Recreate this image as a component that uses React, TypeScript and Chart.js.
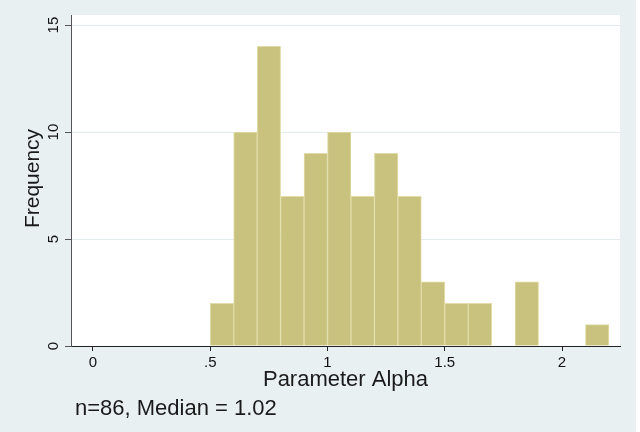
import React, { useEffect, useRef } from 'react';
import { Chart, registerables } from 'chart.js';

Chart.register(...registerables);

// ---- data ----
const binStarts = [0.5, 0.6, 0.7, 0.8, 0.9, 1.0, 1.1, 1.2, 1.3, 1.4, 1.5, 1.6, 1.7, 1.8, 1.9, 2.0, 2.1];
const frequencies = [2, 10, 14, 7, 9, 10, 7, 9, 7, 3, 2, 2, 0, 3, 0, 0, 1];
const binWidth = 0.1;
const xTicks = [0, 0.5, 1, 1.5, 2];
const xTickLabels = ['0', '.5', '1', '1.5', '2'];
const yTicks = [0, 5, 10, 15];
const yTickLabels = ['0', '5', '10', '15'];
const xTitle = 'Parameter Alpha';
const yTitle = 'Frequency';
const note = 'n=86, Median = 1.02';

const FONT = '"Liberation Sans", Arial, Helvetica, sans-serif';
const BG = '#E9F0F2';

export default function App() {
  const ref = useRef<HTMLCanvasElement | null>(null);

  useEffect(() => {
    if (!ref.current) return;
    const points = binStarts
      .map((s, i) => ({ x: s + binWidth / 2, y: frequencies[i] }))
      .filter((p) => p.y > 0);

    const bgPlugin = {
      id: 'bgPlugin',
      beforeDraw(chart: any) {
        const { ctx, chartArea } = chart;
        ctx.save();
        ctx.fillStyle = '#ffffff';
        ctx.fillRect(0, 0, chart.width, chart.height);
        ctx.fillStyle = BG;
        ctx.fillRect(0, 0, chart.width - 4, chart.height);
        ctx.fillStyle = '#ffffff';
        ctx.fillRect(chartArea.left, chartArea.top, chartArea.right - chartArea.left, chartArea.bottom - chartArea.top);
        ctx.restore();
      },
      afterDraw(chart: any) {
        const { ctx, chartArea } = chart;
        ctx.save();
        ctx.fillStyle = '#1a1a1a';
        ctx.font = `22px ${FONT}`;
        ctx.textAlign = 'center';
        ctx.textBaseline = 'alphabetic';
        ctx.fillText(xTitle, 345.5, 386);
        ctx.textAlign = 'left';
        ctx.fillText(note, 75, 415);
        ctx.font = `21px ${FONT}`;
        ctx.translate(39, (chartArea.top + chartArea.bottom) / 2 - 2);
        ctx.rotate(-Math.PI / 2);
        ctx.textAlign = 'center';
        ctx.fillText(yTitle, 0, 0);
        ctx.restore();
      },
    };

    const chart = new Chart(ref.current, {
      type: 'bar',
      data: {
        datasets: [
          {
            data: points,
            backgroundColor: 'rgb(200,194,126)',
            borderColor: 'rgb(226,221,168)',
            borderWidth: 1,
            borderSkipped: 'bottom',
            barPercentage: 1,
            categoryPercentage: 1,
          },
        ],
      },
      options: {
        animation: false,
        responsive: false,
        maintainAspectRatio: false,
        layout: { padding: { top: 15, right: 20, left: 0, bottom: 0 } },
        plugins: { legend: { display: false }, tooltip: { enabled: false } },
        scales: {
          x: {
            type: 'linear',
            min: -0.0938,
            max: 2.2473,
            offset: false,
            afterFit(scale: any) {
              scale.height = 86;
            },
            afterBuildTicks(scale: any) {
              scale.ticks = xTicks.map((v) => ({ value: v }));
            },
            grid: {
              offset: false,
              drawOnChartArea: false,
              drawTicks: true,
              tickLength: 5,
              tickColor: '#222',
            },
            border: { display: true, color: '#222', width: 1 },
            ticks: {
              padding: 3,
              color: '#111',
              font: { family: FONT, size: 15 },
              maxRotation: 0,
              autoSkip: false,
              callback: (_v: any, i: number) => xTickLabels[i],
            },
          },
          y: {
            type: 'linear',
            min: 0,
            max: 15.47,
            afterFit(scale: any) {
              scale.width = 71;
            },
            afterBuildTicks(scale: any) {
              scale.ticks = yTicks.map((v) => ({ value: v }));
            },
            grid: {
              color: '#E3EBEE',
              lineWidth: 1,
              drawTicks: true,
              tickLength: 6,
              tickColor: '#555',
            },
            border: { display: true, color: '#555', width: 1 },
            ticks: {
              padding: 3,
              color: '#111',
              minRotation: 90,
              crossAlign: 'center',
              font: { family: FONT, size: 15 },
              autoSkip: false,
              callback: (_v: any, i: number) => yTickLabels[i],
            },
          },
        },
      },
      plugins: [bgPlugin],
    } as any);

    return () => chart.destroy();
  }, []);

  return (
    <div style={{ position: 'fixed', left: 0, top: 0, width: 640, height: 432 }}>
      <canvas ref={ref} width={640} height={432} style={{ width: 640, height: 432, display: 'block' }} />
    </div>
  );
}
